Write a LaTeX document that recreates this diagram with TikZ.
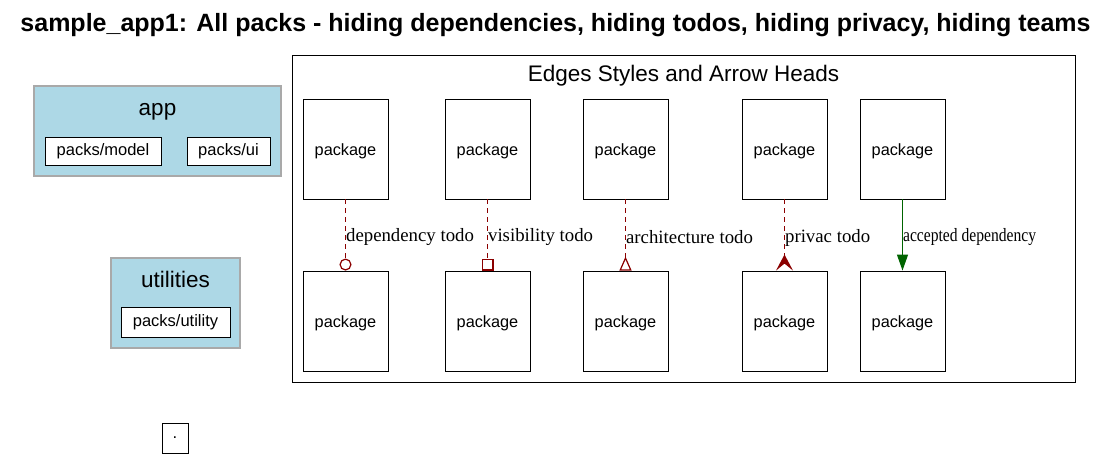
\documentclass[tikz,border=0pt]{standalone}
\usepackage{fontspec}
\setmainfont{Liberation Serif}
\setsansfont{Liberation Sans}
\usetikzlibrary{arrows.meta}
\definecolor{clusterfill}{HTML}{ADD8E6}
\definecolor{clusterline}{HTML}{A9A9A9}
\definecolor{todored}{HTML}{8B0000}
\definecolor{okgreen}{HTML}{006400}
\tikzset{
  pkg/.style={draw=black, line width=0.9pt, fill=white, minimum width=85pt, minimum height=100pt, inner sep=0pt, text height=13pt, text depth=0pt, font=\sffamily\fontsize{16.3}{18}\selectfont},
  small/.style={draw=black, line width=0.9pt, fill=white, inner sep=0pt, font=\sffamily\fontsize{16.5}{18}\selectfont},
  cluster/.style={draw=clusterline, line width=1.2pt, fill=clusterfill},
  clabel/.style={font=\sffamily\fontsize{22.5}{24}\selectfont, inner sep=0pt, anchor=base},
  elabel/.style={font=\rmfamily\fontsize{18.8}{20}\selectfont, anchor=west, inner sep=0pt, yshift=-2.5pt},
  todo/.style={draw=todored, line width=1.2pt, dash pattern=on 5pt off 4pt},
  ok/.style={draw=okgreen, line width=1.2pt}
}
\begin{document}
\begin{tikzpicture}[x=1pt,y=-1pt]
\useasboundingbox (0,0) rectangle (1109,461);
\fill[white] (0,0) rectangle (1109,461);
% title
\node[font=\sffamily\bfseries\fontsize{25}{27}\selectfont, inner sep=0pt, anchor=base] (title) at (555.5,31) {sample\_app1: All packs - hiding dependencies, hiding todos, hiding privacy, hiding teams};
% app cluster
\draw[cluster] (34,86) rectangle (281,176);
\node[clabel] (applabel) at (157.5,115) {app};
\node[small, minimum width=116pt, minimum height=28pt] (model) at (103,151) {packs/model};
\node[small, minimum width=83pt, minimum height=28pt] (ui) at (228.5,151) {packs/ui};
% utilities cluster
\draw[cluster] (111,258) rectangle (240,348);
\node[clabel] (utillabel) at (175.5,287) {utilities};
\node[small, minimum width=109pt, minimum height=30pt] (utility) at (175.5,322) {packs/utility};
% dot node
\node[small, minimum width=26pt, minimum height=30pt] (dot) at (175,438) {.};
% legend cluster
\draw[black, line width=0.9pt] (292,55) rectangle (1075,382);
\node[clabel] (legendlabel) at (683.5,81) {Edges Styles and Arrow Heads};
\foreach \n/\x in {a/345.5, b/487.5, c/625.5, d/784.5, e/902.5} {
  \node[pkg] (\n1) at (\x,149) {package};
  \node[pkg] (\n2) at (\x,321) {package};
}
\draw[todo, -{Circle[open, length=12pt, width=12pt]}] (a1) -- node[elabel] {dependency todo} (a2);
\draw[todo, -{Square[open, length=12pt, width=12pt]}] (b1) -- node[elabel] {visibility todo} (b2);
\draw[todo, -{Triangle[open, reversed, length=14pt, width=12pt]}] (c1) -- node[elabel] {architecture todo} (c2);
\draw[todo, -{Stealth[reversed, fill=todored, length=16pt, width=17pt, inset=7pt]}] (d1) -- node[elabel] {privac todo} (d2);
\draw[ok, -{Triangle[length=16pt, width=11pt, fill=okgreen]}] (e1) -- node[elabel] {\scalebox{0.83}[1]{accepted dependency}} (e2);
\end{tikzpicture}
\end{document}
